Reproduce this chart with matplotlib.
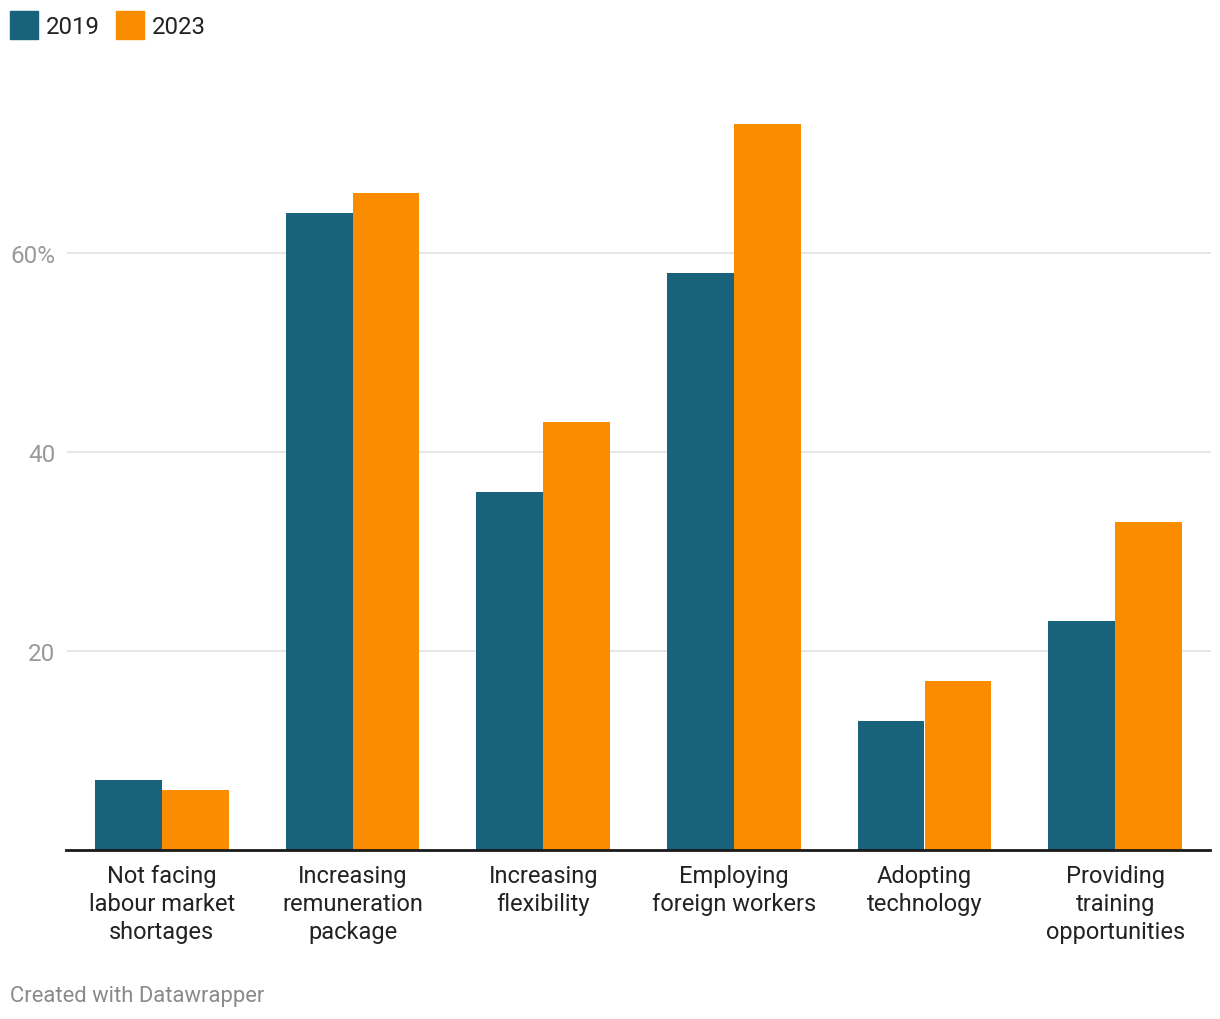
import matplotlib
matplotlib.use('Agg')
import matplotlib.pyplot as plt
import numpy as np

plt.rcParams['font.family'] = ['Roboto', 'DejaVu Sans']

categories = ['Not facing\nlabour market\nshortages',
              'Increasing\nremuneration\npackage',
              'Increasing\nflexibility',
              'Employing\nforeign workers',
              'Adopting\ntechnology',
              'Providing\ntraining\nopportunities']
vals_2019 = [7, 64, 36, 58, 13, 23]
vals_2023 = [6, 66, 43, 73, 17, 33]
yticks = [20, 40, 60]
ytick_labels = ['20', '40', '60%']
series_names = ['2019', '2023']

c2019 = '#18627b'
c2023 = '#fa8c00'

W, H = 1220, 1020
fig = plt.figure(figsize=(W / 100, H / 100), dpi=100)
left, right, base = 66.5, 1210.5, 851
top = base - 80 * 9.95
ax = fig.add_axes([left / W, 1 - base / H, (right - left) / W, (base - top) / H])

x = np.arange(len(categories))
bw = 0.35
ax.bar(x - bw / 2, vals_2019, bw, color=c2019, zorder=3)
ax.bar(x + bw / 2, vals_2023, bw, color=c2023, zorder=3)

ax.set_xlim(-0.5, len(categories) - 0.5)
ax.set_ylim(0, 80)
ax.set_yticks(yticks)
ax.set_yticklabels(ytick_labels)
ax.yaxis.grid(True, color='#e3e3e3', linewidth=1.2, zorder=0)
ax.tick_params(axis='y', length=0, pad=8, labelsize=17.5, labelcolor='#9a9a9a')
ax.set_xticks(x)
ax.set_xticklabels(categories, fontsize=17, color='#222222', linespacing=1.27)
ax.tick_params(axis='x', length=0, pad=10)
for s in ['top', 'right', 'left']:
    ax.spines[s].set_visible(False)
ax.spines['bottom'].set_color('#1a1a1a')
ax.spines['bottom'].set_linewidth(2)
ax.spines['bottom'].set_zorder(4)

# legend drawn as patches in figure pixel coords
for i, (name, col) in enumerate(zip(series_names, [c2019, c2023])):
    x0 = 10 + i * 106
    fig.patches.append(plt.Rectangle((x0 / W, 1 - 40 / H), 28 / W, 28 / H,
                                     transform=fig.transFigure, color=col))
    fig.text((x0 + 36) / W, 1 - 27 / H, name, fontsize=17.3, color='#222222',
             va='center', ha='left')

fig.text(10 / W, 1 - 997 / H, 'Created with Datawrapper', fontsize=15.8,
         color='#8a8a8a', va='center', ha='left')

fig.savefig('out.png', dpi=100, facecolor='white')
